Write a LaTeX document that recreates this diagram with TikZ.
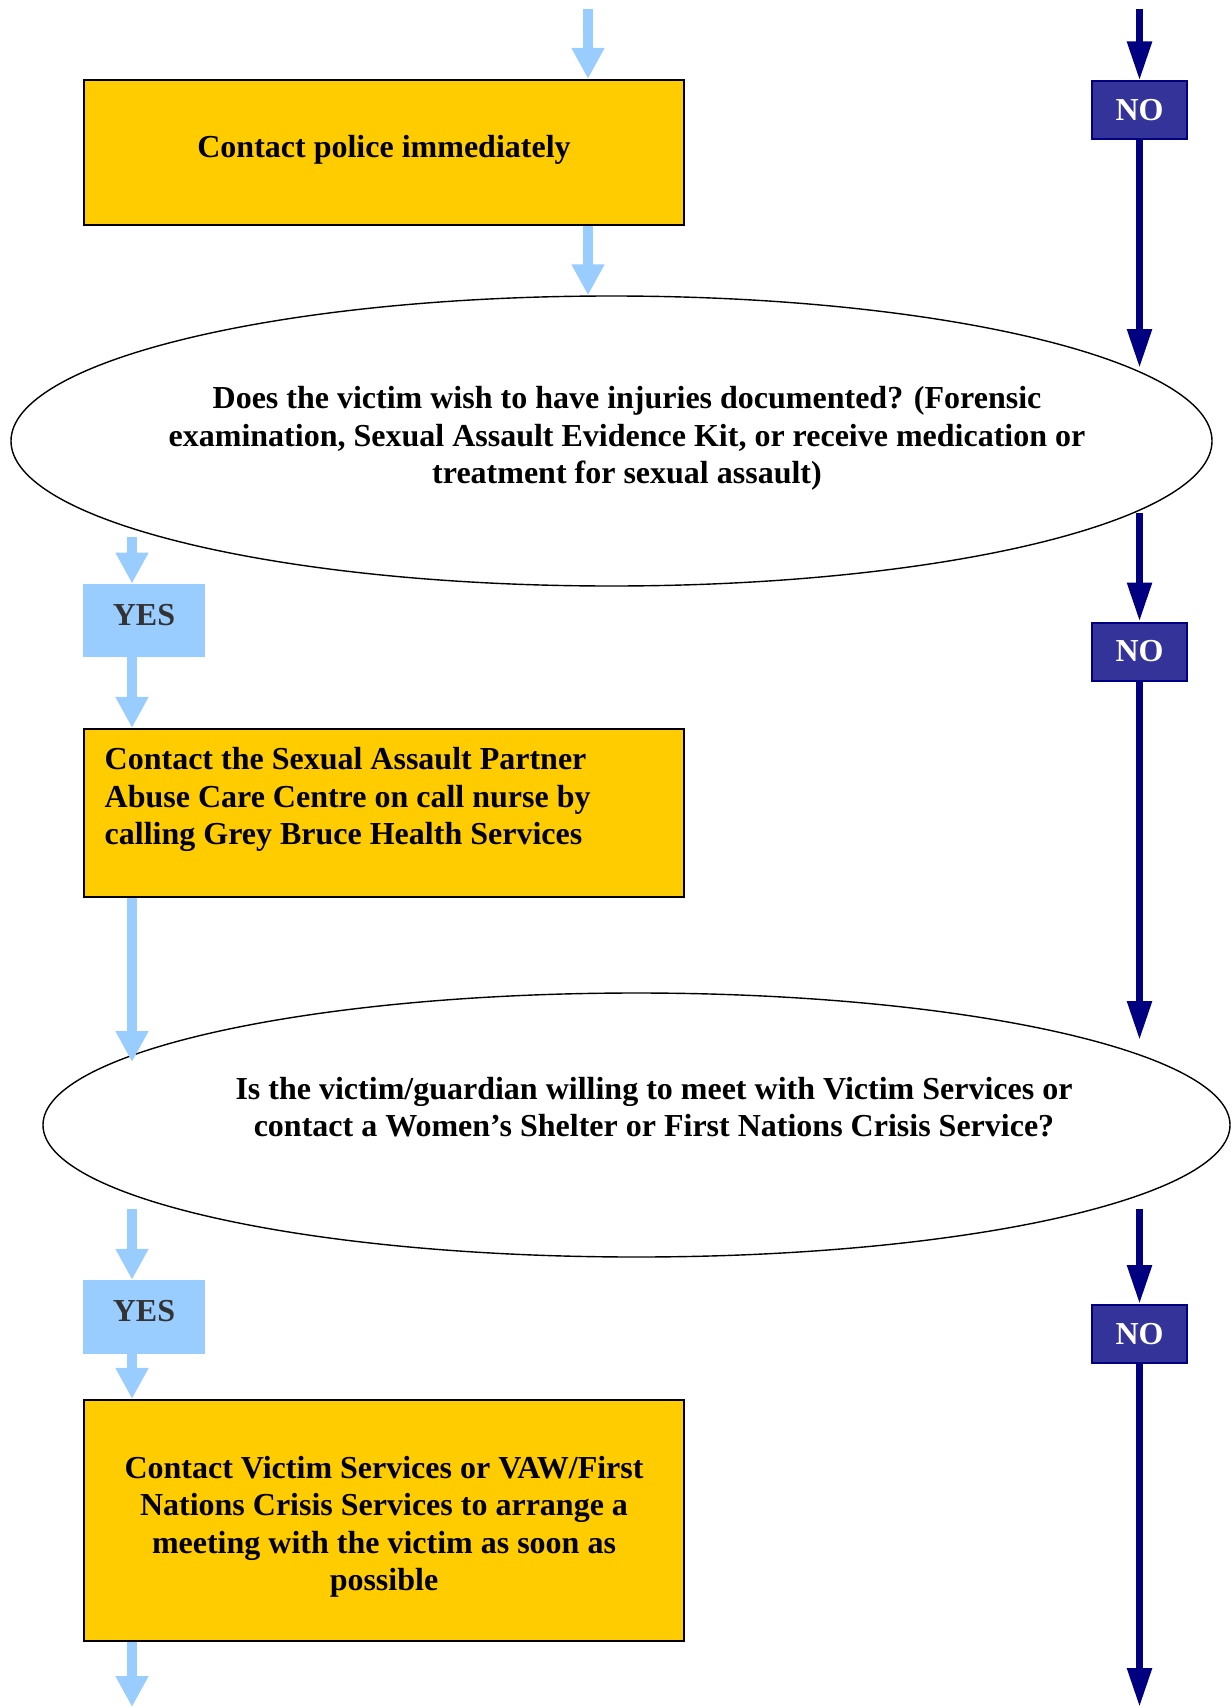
\documentclass[tikz,border=0pt]{standalone}
\usepackage{fontspec}
\setmainfont{Liberation Serif}
\usetikzlibrary{arrows.meta,shapes.geometric}
\definecolor{lblue}{HTML}{99CCFF}
\definecolor{navy}{HTML}{000080}
\definecolor{nofill}{HTML}{333399}
\definecolor{gold}{HTML}{FFCC00}
\definecolor{yestext}{HTML}{333333}
\begin{document}
\begin{tikzpicture}[x=1pt,y=-1pt,
  font=\fontsize{32}{37.5}\selectfont\bfseries,
  actbox/.style={draw=black, line width=2.2pt, fill=gold, inner sep=0pt,
    minimum width=600pt},
  yesbox/.style={fill=lblue, inner sep=0pt, minimum width=122pt, minimum height=73.5pt,
    text=yestext, text height=21.2pt, text depth=11.2pt},
  nobox/.style={draw=navy, line width=2pt, fill=nofill, inner sep=0pt,
    minimum width=95pt, minimum height=58pt, text=white},
  question/.style={draw=black, line width=1.4pt, ellipse, inner sep=0pt},
  qtext/.style={align=center, inner sep=0pt},
  larrow/.style={draw=lblue, line width=10pt, -{Triangle[width=31pt,length=31pt]}},
  darrow/.style={draw=navy, line width=7pt, -{Triangle[width=23.5pt,length=39pt]}}
]
\useasboundingbox (0,0) rectangle (1231,1707);

% boxes
\node[actbox, minimum height=145pt, text height=21.8pt, text depth=11pt] (box1) at (384,152.5) {Contact police immediately};
\node[actbox, minimum height=168pt] (box2) at (384,813) {};
\node[anchor=west, align=left, inner sep=0pt] (box2t) at (104.5,799.5)
  {Contact the Sexual Assault Partner\\Abuse Care Centre on call nurse by\\calling Grey Bruce Health Services};
\node[actbox, minimum height=241pt] (box3) at (384,1520.5) {};
\node[qtext] (box3t) at (384,1527)
  {Contact Victim Services or VAW/First\\Nations Crisis Services to arrange a\\meeting with the victim as soon as\\possible};

% questions
\node[question, minimum width=1201pt, minimum height=290pt] (q1) at (611.5,441) {};
\node[qtext] (q1t) at (627,438.5)
  {Does the victim wish to have injuries documented? (Forensic\\examination, Sexual Assault Evidence Kit, or receive medication or\\treatment for sexual assault)};
\node[question, minimum width=1187pt, minimum height=264pt] (q2) at (636.5,1125) {};
\node[qtext] (q2t) at (654,1107)
  {Is the victim/guardian willing to meet with Victim Services or\\contact a Women’s Shelter or First Nations Crisis Service?};

% yes / no labels
\node[yesbox] (yes1) at (144,620.5) {YES};
\node[yesbox] (yes2) at (144,1316.75) {YES};
\node[nobox] (no1) at (1139.5,110.5) {NO};
\node[nobox] (no2) at (1139.5,651.5) {NO};
\node[nobox] (no3) at (1139.5,1334) {NO};

% free ends
\coordinate (a0) at (588,9);
\coordinate (d0) at (1139.5,9);
\coordinate (d1) at (1139.5,368);
\coordinate (d2) at (1139.5,513);
\coordinate (d3) at (1139.5,1040);
\coordinate (d4) at (1139.5,1209);
\coordinate (d5) at (1139.5,1707);
\coordinate (l0) at (132,537);
\coordinate (l1) at (132,1062);
\coordinate (l2) at (132,1209);
\coordinate (l3) at (132,1707);

% light blue (yes) connectors
\draw[larrow] (a0) -- (box1.north -| a0);
\draw[larrow] (box1.south -| a0) -- (q1.north -| a0);
\draw[larrow] (l0) -- (yes1.north -| l0);
\draw[larrow] (yes1.south -| l0) -- (box2.north -| l0);
\draw[larrow] (box2.south -| l0) -- (l1);
\draw[larrow] (l2) -- (yes2.north -| l0);
\draw[larrow] (yes2.south -| l0) -- (box3.north -| l0);
\draw[larrow] (box3.south -| l0) -- (l3);

% navy (no) connectors
\draw[darrow] (d0) -- (no1.north);
\draw[darrow] (no1.south) -- (d1);
\draw[darrow] (d2) -- (no2.north);
\draw[darrow] (no2.south) -- (d3);
\draw[darrow] (d4) -- (no3.north);
\draw[darrow] (no3.south) -- (d5);
\end{tikzpicture}
\end{document}
